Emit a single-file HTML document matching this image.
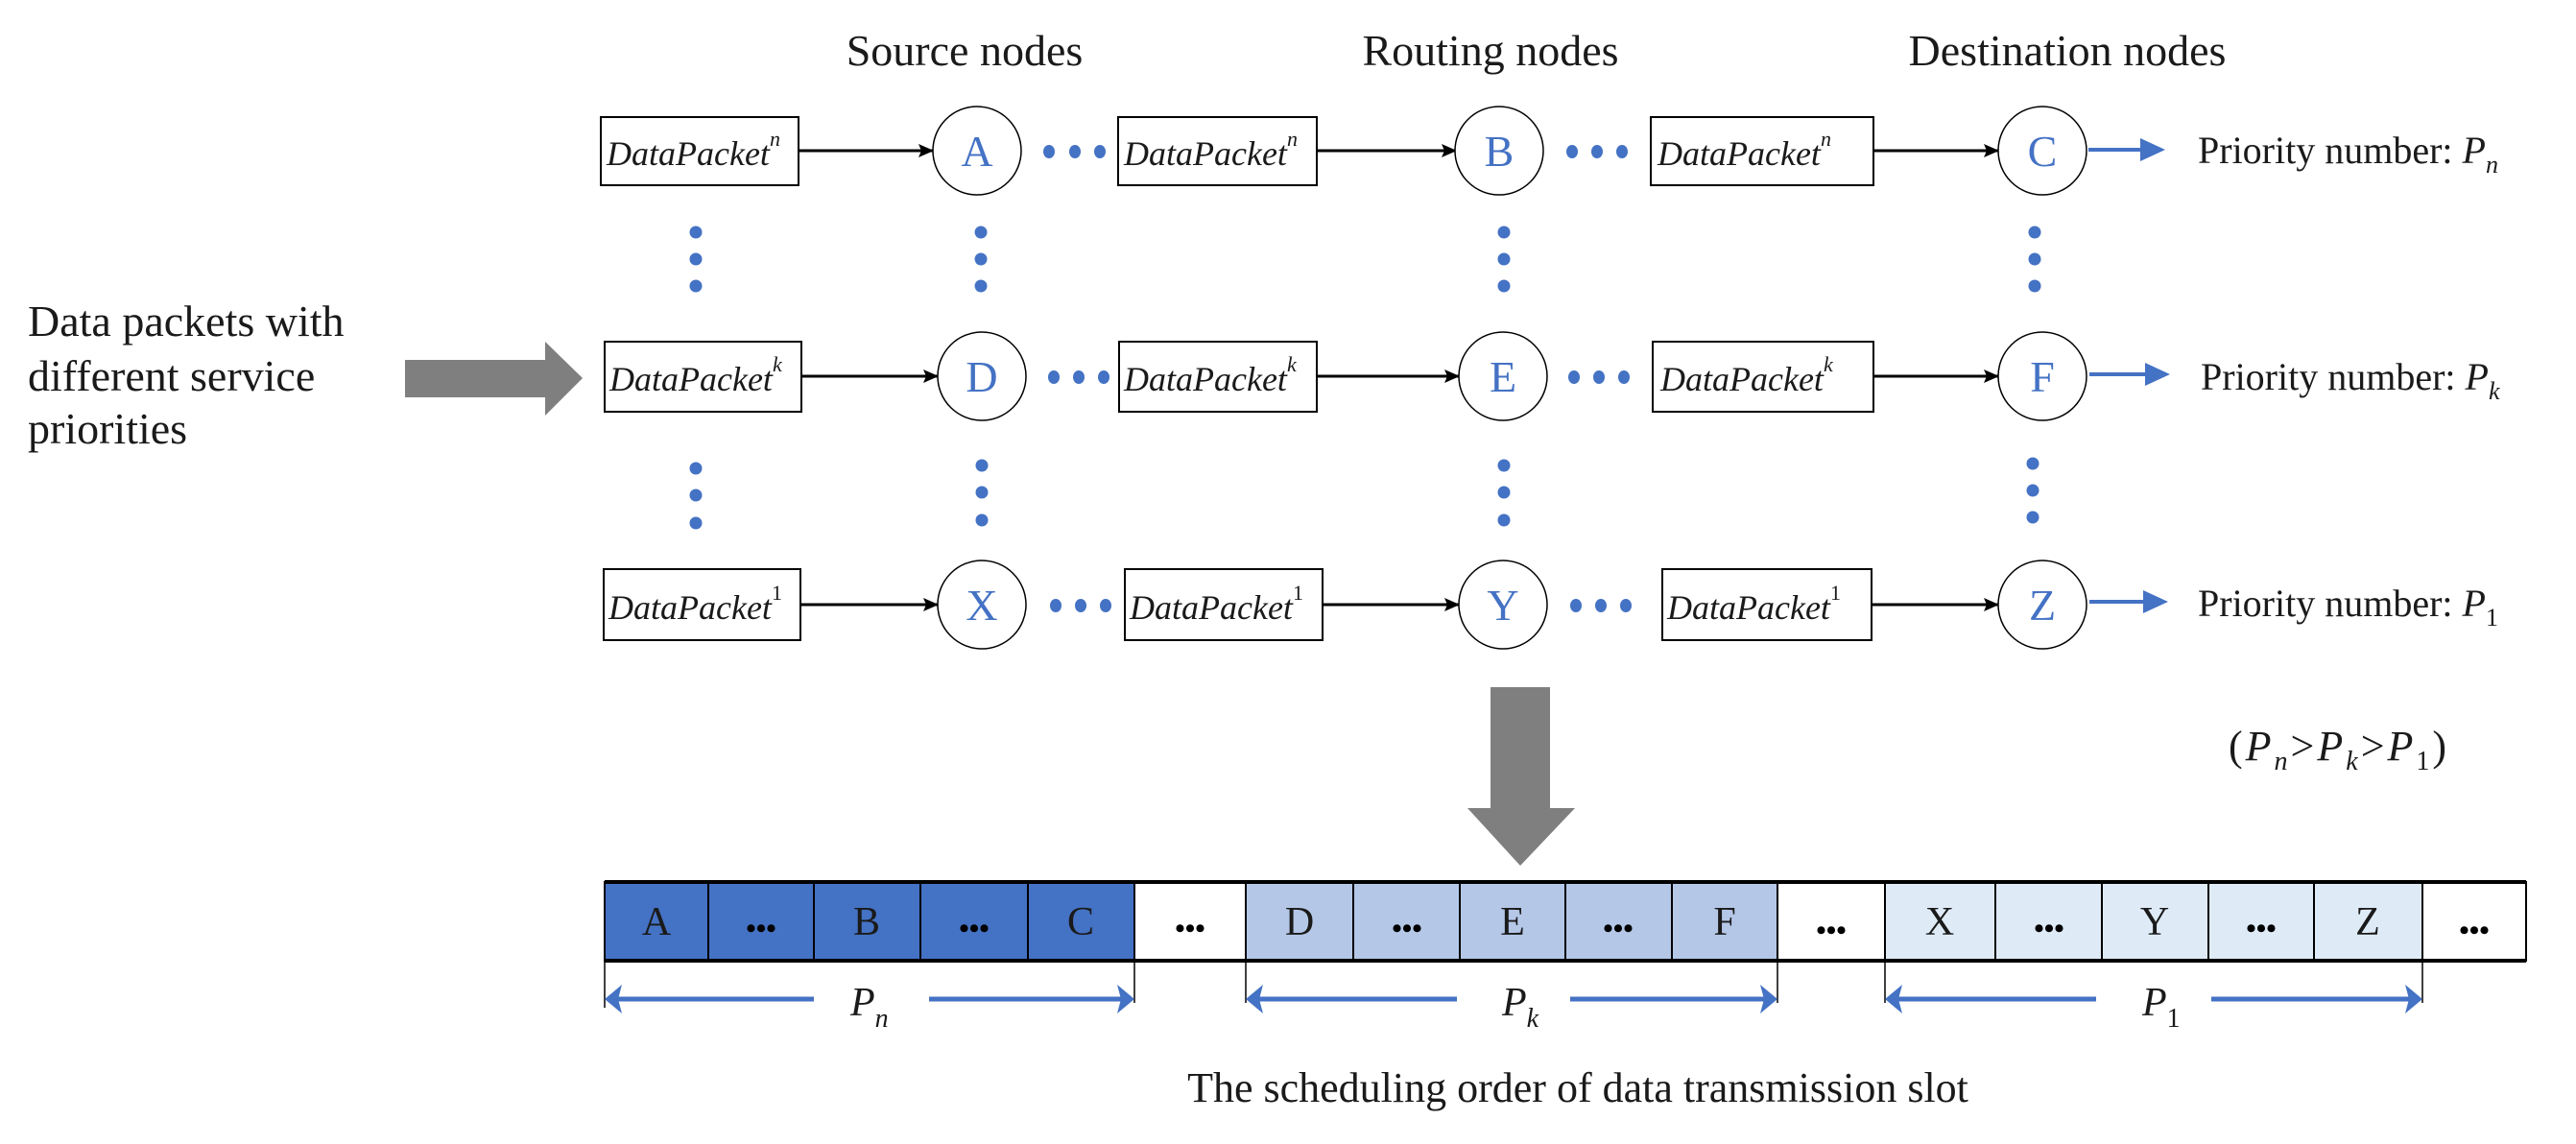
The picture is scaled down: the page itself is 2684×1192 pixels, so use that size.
<!DOCTYPE html>
<html><head><meta charset="utf-8"><style>
html,body{margin:0;padding:0;background:#fff;}
svg{display:block;}
text{font-family:"Liberation Serif",serif;}
</style></head><body>
<svg width="2684" height="1192" viewBox="0 0 2684 1192" xmlns="http://www.w3.org/2000/svg">
<defs>
<marker id="ab" markerWidth="16" markerHeight="14" refX="15" refY="7" orient="auto" markerUnits="userSpaceOnUse" viewBox="0 0 16 14"><path d="M0,0 L16,7 L0,14 L3,7 z" fill="#000"/></marker>
</defs>
<g font-size="46" fill="#1a1a1a">
<text x="1005" y="68" text-anchor="middle">Source nodes</text>
<text x="1553" y="68" text-anchor="middle">Routing nodes</text>
<text x="2154" y="68" text-anchor="middle">Destination nodes</text>
</g>
<g font-size="46" fill="#1a1a1a">
<text x="29" y="350">Data packets with</text>
<text x="29" y="407">different service</text>
<text x="29" y="462">priorities</text>
</g>
<polygon points="422,375 568,375 568,356 607,394 568,433 568,414 422,414" fill="#7f7f7f"/>
<polygon points="1553,716 1615,716 1615,842 1641,842 1584,902 1529,842 1553,842" fill="#7f7f7f"/>

<g stroke="#000" stroke-width="2" fill="#fff">
<rect x="626" y="122" width="206" height="71"/><rect x="1165" y="122" width="207" height="71"/><rect x="1720" y="122" width="232" height="71"/>
<rect x="630" y="356" width="205" height="73"/><rect x="1166" y="356" width="206" height="73"/><rect x="1722" y="356" width="230" height="73"/>
<rect x="629" y="593" width="205" height="74"/><rect x="1172" y="593" width="206" height="74"/><rect x="1732" y="593" width="218" height="74"/>
</g>
<g stroke="#000" stroke-width="3" marker-end="url(#ab)">
<line x1="832" y1="157" x2="972" y2="157"/><line x1="1372" y1="157" x2="1517" y2="157"/><line x1="1952" y1="157" x2="2082" y2="157"/>
<line x1="835" y1="392" x2="977" y2="392"/><line x1="1372" y1="392" x2="1520" y2="392"/><line x1="1952" y1="392" x2="2082" y2="392"/>
<line x1="834" y1="630" x2="977" y2="630"/><line x1="1378" y1="630" x2="1520" y2="630"/><line x1="1950" y1="630" x2="2082" y2="630"/>
</g>
<g stroke="#000" stroke-width="1.5" fill="#fff">
<circle cx="1018" cy="157" r="46"/><circle cx="1562" cy="157" r="46"/><circle cx="2128" cy="157" r="46"/>
<circle cx="1023" cy="392" r="46"/><circle cx="1566" cy="392" r="46"/><circle cx="2128" cy="392" r="46"/>
<circle cx="1023" cy="630" r="46"/><circle cx="1566" cy="630" r="46"/><circle cx="2128" cy="630" r="46"/>
</g>
<g font-size="46" fill="#4472c4" text-anchor="middle">
<text x="1018" y="173">A</text><text x="1562" y="173">B</text><text x="2128" y="173">C</text>
<text x="1023" y="408">D</text><text x="1566" y="408">E</text><text x="2128" y="408">F</text>
<text x="1023" y="646">X</text><text x="1566" y="646">Y</text><text x="2128" y="646">Z</text>
</g>
<g font-size="36" font-style="italic" fill="#1a1a1a">
<text x="632" y="172">DataPacket<tspan font-size="22" dy="-20">n</tspan></text>
<text x="1171" y="172">DataPacket<tspan font-size="22" dy="-20">n</tspan></text>
<text x="1727" y="172">DataPacket<tspan font-size="22" dy="-20">n</tspan></text>
<text x="635" y="407">DataPacket<tspan font-size="22" dy="-20">k</tspan></text>
<text x="1171" y="407">DataPacket<tspan font-size="22" dy="-20">k</tspan></text>
<text x="1730" y="407">DataPacket<tspan font-size="22" dy="-20">k</tspan></text>
<text x="634" y="645">DataPacket<tspan font-size="22" font-style="normal" dy="-20">1</tspan></text>
<text x="1177" y="645">DataPacket<tspan font-size="22" font-style="normal" dy="-20">1</tspan></text>
<text x="1737" y="645">DataPacket<tspan font-size="22" font-style="normal" dy="-20">1</tspan></text>
</g>
<g fill="#4472c4">
<ellipse cx="1093" cy="158" rx="6" ry="7"/><ellipse cx="1120" cy="158" rx="6" ry="7"/><ellipse cx="1146" cy="158" rx="6" ry="7"/>
<ellipse cx="1638" cy="158" rx="6" ry="7"/><ellipse cx="1664" cy="158" rx="6" ry="7"/><ellipse cx="1690" cy="158" rx="6" ry="7"/>
<ellipse cx="1098" cy="393" rx="6" ry="7"/><ellipse cx="1124" cy="393" rx="6" ry="7"/><ellipse cx="1150" cy="393" rx="6" ry="7"/>
<ellipse cx="1640" cy="393" rx="6" ry="7"/><ellipse cx="1666" cy="393" rx="6" ry="7"/><ellipse cx="1692" cy="393" rx="6" ry="7"/>
<ellipse cx="1100" cy="631" rx="6" ry="7"/><ellipse cx="1126" cy="631" rx="6" ry="7"/><ellipse cx="1152" cy="631" rx="6" ry="7"/>
<ellipse cx="1642" cy="631" rx="6" ry="7"/><ellipse cx="1668" cy="631" rx="6" ry="7"/><ellipse cx="1694" cy="631" rx="6" ry="7"/>
<circle cx="725" cy="242" r="6.5"/><circle cx="725" cy="270" r="6.5"/><circle cx="725" cy="298" r="6.5"/>
<circle cx="1022" cy="242" r="6.5"/><circle cx="1022" cy="270" r="6.5"/><circle cx="1022" cy="298" r="6.5"/>
<circle cx="1567" cy="242" r="6.5"/><circle cx="1567" cy="270" r="6.5"/><circle cx="1567" cy="298" r="6.5"/>
<circle cx="2120" cy="242" r="6.5"/><circle cx="2120" cy="270" r="6.5"/><circle cx="2120" cy="298" r="6.5"/>
<circle cx="725" cy="488" r="6.5"/><circle cx="725" cy="516" r="6.5"/><circle cx="725" cy="545" r="6.5"/>
<circle cx="1023" cy="485" r="6.5"/><circle cx="1023" cy="513" r="6.5"/><circle cx="1023" cy="542" r="6.5"/>
<circle cx="1567" cy="485" r="6.5"/><circle cx="1567" cy="513" r="6.5"/><circle cx="1567" cy="542" r="6.5"/>
<circle cx="2118" cy="483" r="6.5"/><circle cx="2118" cy="511" r="6.5"/><circle cx="2118" cy="539" r="6.5"/>
</g>
<g stroke="#4472c4" stroke-width="4">
<line x1="2176" y1="156" x2="2235" y2="156"/><line x1="2177" y1="390" x2="2240" y2="390"/><line x1="2177" y1="627" x2="2238" y2="627"/>
</g>
<g fill="#4472c4">
<polygon points="2230,144 2256,156 2230,168"/><polygon points="2235,378 2261,390 2235,402"/><polygon points="2233,615 2259,627 2233,639"/>
</g>
<g font-size="40" fill="#1a1a1a">
<text x="2290" y="170">Priority number: <tspan font-style="italic">P</tspan><tspan font-style="italic" font-size="26" dy="10">n</tspan></text>
<text x="2293" y="406">Priority number: <tspan font-style="italic">P</tspan><tspan font-style="italic" font-size="26" dy="10">k</tspan></text>
<text x="2290" y="642">Priority number: <tspan font-style="italic">P</tspan><tspan font-size="26" dy="10">1</tspan></text>
<text x="2322" y="792" font-size="44" letter-spacing="3">(<tspan font-style="italic">P</tspan><tspan font-style="italic" font-size="28" dy="10">n</tspan><tspan dy="-10">&gt;</tspan><tspan font-style="italic">P</tspan><tspan font-style="italic" font-size="28" dy="10">k</tspan><tspan dy="-10">&gt;</tspan><tspan font-style="italic">P</tspan><tspan font-size="28" dy="10">1</tspan><tspan dy="-10">)</tspan></text>
</g>
<g stroke="#000" stroke-width="2">
<rect x="630" y="919" width="108" height="82" fill="#4472c4"/><rect x="738" y="919" width="110" height="82" fill="#4472c4"/><rect x="848" y="919" width="111" height="82" fill="#4472c4"/><rect x="959" y="919" width="112" height="82" fill="#4472c4"/><rect x="1071" y="919" width="111" height="82" fill="#4472c4"/>
<rect x="1182" y="919" width="116" height="82" fill="#fff"/>
<rect x="1298" y="919" width="112" height="82" fill="#b4c7e7"/><rect x="1410" y="919" width="111" height="82" fill="#b4c7e7"/><rect x="1521" y="919" width="110" height="82" fill="#b4c7e7"/><rect x="1631" y="919" width="111" height="82" fill="#b4c7e7"/><rect x="1742" y="919" width="110" height="82" fill="#b4c7e7"/>
<rect x="1852" y="919" width="112" height="82" fill="#fff"/>
<rect x="1964" y="919" width="115" height="82" fill="#deebf7"/><rect x="2079" y="919" width="111" height="82" fill="#deebf7"/><rect x="2190" y="919" width="111" height="82" fill="#deebf7"/><rect x="2301" y="919" width="110" height="82" fill="#deebf7"/><rect x="2411" y="919" width="113" height="82" fill="#deebf7"/>
<rect x="2524" y="919" width="108" height="82" fill="#fff"/>
</g>
<rect x="630" y="917" width="2002" height="4" fill="#000"/><rect x="630" y="999" width="2002" height="4" fill="#000"/>
<g font-size="42" fill="#1a1a1a" text-anchor="middle">
<text x="684" y="974">A</text><text x="903" y="974">B</text><text x="1126" y="974">C</text>
<text x="1354" y="974">D</text><text x="1576" y="974">E</text><text x="1797" y="974">F</text>
<text x="2021" y="974">X</text><text x="2245" y="974">Y</text><text x="2467" y="974">Z</text>
</g>
<g font-size="30" font-weight="bold" fill="#000" text-anchor="middle">
<text x="793" y="977">•••</text><text x="1015" y="977">•••</text><text x="1240" y="977">•••</text>
<text x="1466" y="977">•••</text><text x="1686" y="977">•••</text><text x="1908" y="979">•••</text>
<text x="2135" y="977">•••</text><text x="2356" y="977">•••</text><text x="2578" y="979">•••</text>
</g>
<g stroke="#000" stroke-width="1.5">
<line x1="630" y1="1001" x2="630" y2="1050"/><line x1="1182" y1="1001" x2="1182" y2="1045"/>
<line x1="1298" y1="1001" x2="1298" y2="1045"/><line x1="1852" y1="1001" x2="1852" y2="1045"/>
<line x1="1964" y1="1001" x2="1964" y2="1045"/><line x1="2524" y1="1001" x2="2524" y2="1045"/>
</g>
<g stroke="#4472c4" stroke-width="5">
<line x1="640" y1="1041" x2="848" y2="1041"/><line x1="968" y1="1041" x2="1172" y2="1041"/>
<line x1="1308" y1="1041" x2="1518" y2="1041"/><line x1="1636" y1="1041" x2="1842" y2="1041"/>
<line x1="1974" y1="1041" x2="2184" y2="1041"/><line x1="2304" y1="1041" x2="2514" y2="1041"/>
</g>
<g fill="#4472c4">
<polygon points="630,1041 648,1026 644,1041 648,1056"/><polygon points="1182,1041 1164,1026 1168,1041 1164,1056"/>
<polygon points="1298,1041 1316,1026 1312,1041 1316,1056"/><polygon points="1852,1041 1834,1026 1838,1041 1834,1056"/>
<polygon points="1964,1041 1982,1026 1978,1041 1982,1056"/><polygon points="2524,1041 2506,1026 2510,1041 2506,1056"/>
</g>
<g font-size="42" fill="#1a1a1a">
<text x="886" y="1058" font-style="italic">P<tspan font-size="28" dy="12">n</tspan></text>
<text x="1565" y="1058" font-style="italic">P<tspan font-size="28" dy="12">k</tspan></text>
<text x="2232" y="1058" font-style="italic">P<tspan font-size="28" font-style="normal" dy="12">1</tspan></text>
</g>
<text x="1644" y="1148" text-anchor="middle" font-size="44" fill="#1a1a1a">The scheduling order of data transmission slot</text>
</svg>
</body></html>
